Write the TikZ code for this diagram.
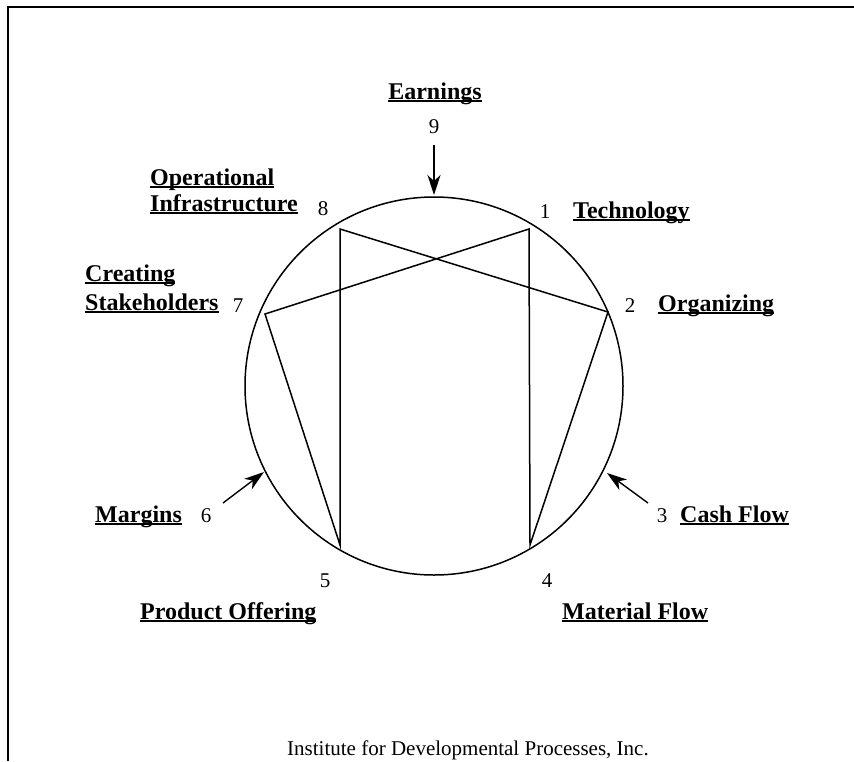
\documentclass[tikz,border=0pt]{standalone}
\usepackage{fontspec}
\setmainfont{Liberation Serif}
\usetikzlibrary{arrows.meta}
\newcommand\ulx[1]{\setbox0\hbox{#1}\rlap{\rule[-3pt]{\wd0}{1.8pt}}\box0}
\tikzset{
  lbl/.style={inner sep=0pt, anchor=base west, font=\fontsize{24}{28}\selectfont\bfseries},
  num/.style={inner sep=0pt, anchor=base, font=\fontsize{21}{24}\selectfont},
  edge/.style={line width=1.5pt},
  ptr/.style={line width=1.4pt, -{Stealth[length=20pt,width=13pt,inset=6pt]}}
}
\begin{document}
\begin{tikzpicture}[x=1pt,y=-1pt]
\useasboundingbox (0,0) rectangle (854,761);
% frame
\draw[line width=2pt] (7.5,761) -- (7.5,6.5) -- (854,6.5);
% circle
\node[draw, circle, line width=1.5pt, minimum size=378pt, inner sep=0pt] (ring) at (434,386) {};
% vertices
\coordinate (p1) at (529,229);
\coordinate (p2) at (608,312);
\coordinate (p4) at (530,545);
\coordinate (p5) at (340,545);
\coordinate (p7) at (265,314);
\coordinate (p8) at (340,229);
\draw[edge] (p1) -- (p4) -- (p2) -- (p8) -- (p5) -- (p7) -- cycle;
% arrows
\coordinate (s9) at (434,145);
\coordinate (t9) at (434,195);
\coordinate (s3) at (648,503);
\coordinate (t3) at (607,473);
\coordinate (s6) at (223,503);
\coordinate (t6) at (264,472);
\draw[ptr] (s9) -- (t9);
\draw[ptr] (s3) -- (t3);
\draw[ptr] (s6) -- (t6);
% numbers
\node[num] (n9) at (434,133) {9};
\node[num] (n1) at (545,218) {1};
\node[num] (n2) at (630,312) {2};
\node[num] (n3) at (662,522) {3};
\node[num] (n4) at (547,587) {4};
\node[num] (n5) at (325,587) {5};
\node[num] (n6) at (206,522) {6};
\node[num] (n7) at (238,312) {7};
\node[num] (n8) at (323,215) {8};
% labels
\node[lbl, anchor=base] (l9) at (435,99) {\ulx{Earnings}};
\node[lbl] (l1) at (573,218) {\ulx{Technology}};
\node[lbl] (l2) at (658,311) {\ulx{Organizing}};
\node[lbl] (l3) at (680,522) {\ulx{Cash Flow}};
\node[lbl] (l4) at (562,619) {\ulx{Material Flow}};
\node[lbl] (l5) at (140,619) {\ulx{Product Offering}};
\node[lbl] (l6) at (95,522) {\ulx{Margins}};
\node[lbl] (l7a) at (85,281) {\ulx{Creating}};
\node[lbl] (l7b) at (85,310) {\ulx{Stakeholders}};
\node[lbl] (l8a) at (150,185) {\ulx{Operational}};
\node[lbl] (l8b) at (150,211) {\ulx{Infrastructure}};
% footer
\node[num, anchor=base west] (foot) at (287,755) {Institute for Developmental Processes, Inc.};
\end{tikzpicture}
\end{document}
